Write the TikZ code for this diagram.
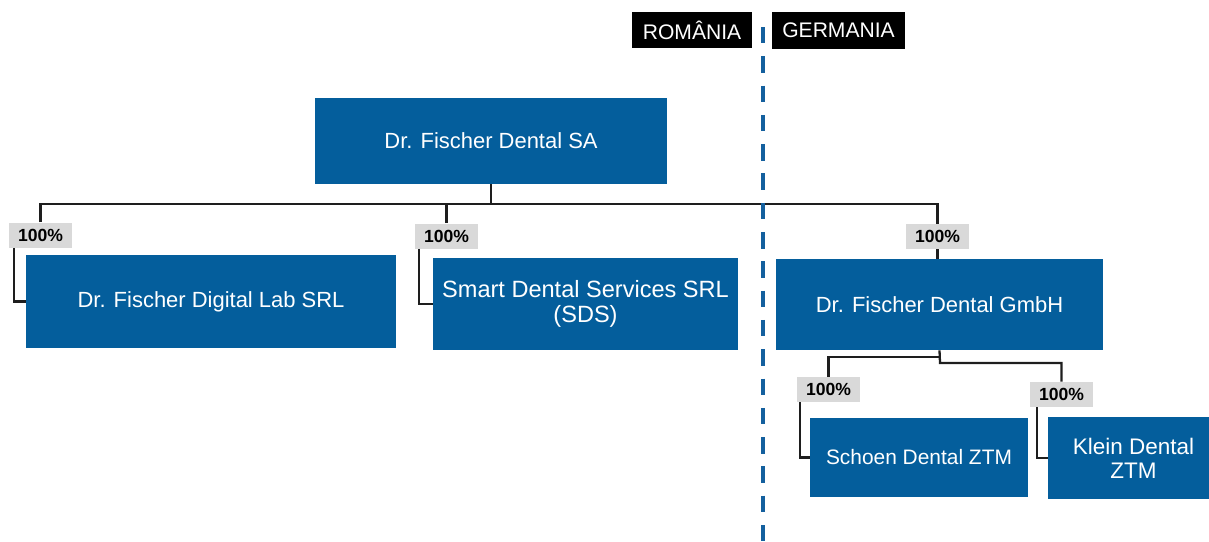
\documentclass[tikz,border=0pt]{standalone}
\usepackage{fontspec}
\setmainfont{Liberation Sans}
\definecolor{BoxBlue}{RGB}{4, 94, 156}
\definecolor{DashBlue}{RGB}{20, 96, 158}
\definecolor{LabelGray}{RGB}{217, 217, 217}
\definecolor{LineBlack}{RGB}{30, 30, 30}

\begin{document}
\begin{tikzpicture}[x=0.02cm, y=-0.02cm,
        company/.style={fill=BoxBlue, text=white, align=center, inner sep=0pt, font=\fontsize{12.5}{13.8}\selectfont},
        share/.style={fill=LabelGray, inner sep=0pt, minimum width=1.25cm, minimum height=0.5cm, font=\fontsize{10}{12}\selectfont\bfseries},
        country/.style={fill=black, text=white, inner sep=0pt, minimum height=0.74cm, font=\fontsize{12}{14}\selectfont},
        link/.style={line width=1.3pt, LineBlack}]
        \useasboundingbox (0,0) rectangle (1209,541);

        % Countries
        \node[country, minimum width=2.4cm] (ro) at (692,30) {ROMÂNIA};
        \node[country, minimum width=2.66cm] (de) at (838.5,30.5) {GERMANIA};

        % Companies
        \node[company, minimum width=7.04cm, minimum height=1.72cm] (top) at (491,141) {Dr. Fischer Dental SA};
        \node[company, minimum width=7.4cm, minimum height=1.86cm] (lab) at (211,301.5) {Dr. Fischer Digital Lab SRL};
        \node[company, minimum width=6.1cm, minimum height=1.84cm, font=\fontsize{13.4}{14.2}\selectfont] (sds) at (585.5,304) {Smart Dental Services SRL\\(SDS)};
        \node[company, minimum width=6.54cm, minimum height=1.82cm] (gmbh) at (939.5,304.5) {Dr. Fischer Dental GmbH};
        \node[company, minimum width=4.36cm, minimum height=1.58cm, font=\fontsize{11.9}{13}\selectfont] (schoen) at (919,457.5) {Schoen Dental ZTM};
        \node[company, minimum width=3.22cm, minimum height=1.64cm, font=\fontsize{12.8}{13.6}\selectfont] (klein) at (1128.5,458) {\hspace*{0.2cm}Klein Dental\\\hspace*{0.2cm}ZTM};

        % Shares
        \node[share] (p1) at (40.5,235) {100\%};
        \node[share] (p2) at (446.5,236) {100\%};
        \node[share] (p3) at (937.5,236.5) {100\%};
        \node[share] (p4) at (828.5,389.5) {100\%};
        \node[share] (p5) at (1061.5,394.5) {100\%};

        % Links
        \coordinate (j0) at (490,204);
        \coordinate (j1) at (940,357);
        \coordinate (j2) at (940,363);
        \draw[link] (top.south) -- (top.south |- j0);
        \draw[link] (p1.north) |- (j0) -| (p3.north);
        \draw[link] (p2.north) -- (p2.north |- j0);
        \draw[link] ([xshift=0.1cm]p1.south west) |- (lab.west);
        \draw[link] ([xshift=0.08cm]p2.south west) |- (sds.west);
        \draw[link] (p3.south) -- (p3.south |- gmbh.north);
        \draw[link] (gmbh.south) -- (j2) -| (p5.north);
        \draw[link] (j1) -| (p4.north);
        \draw[link] ([xshift=0.06cm]p4.south west) |- (schoen.west);
        \draw[link] ([xshift=0.14cm]p5.south west) |- (klein.west);

        % Border
        \draw[DashBlue, line width=2.3pt, dash pattern=on 0.33cm off 0.256cm] (763,27) -- (763,541);
    \end{tikzpicture}
\end{document}
